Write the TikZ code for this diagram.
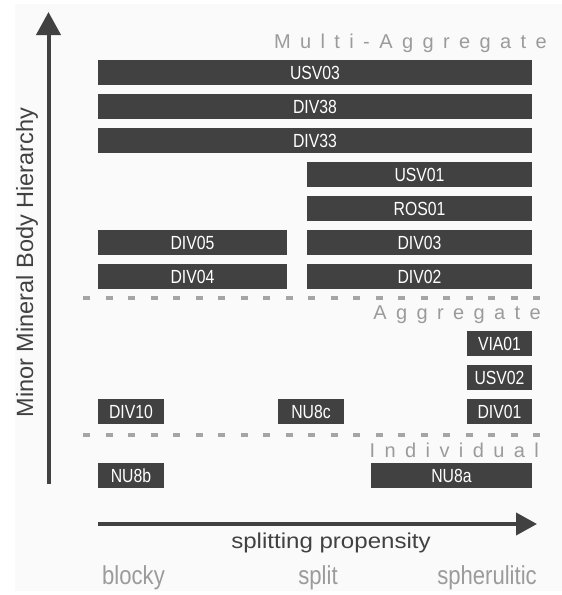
\documentclass[tikz,border=0pt]{standalone}
\usepackage{fontspec}
\setmainfont{Liberation Sans}
\newfontfamily\barfont[FakeStretch=0.83]{Liberation Sans}
\newfontfamily\narrowfont[FakeStretch=0.85]{Liberation Sans}
\newfontfamily\widefont[FakeStretch=1.12]{Liberation Sans}
\usetikzlibrary{arrows.meta}
\definecolor{bardark}{RGB}{65,65,65}
\definecolor{lightlab}{RGB}{155,155,155}
\definecolor{dashgray}{RGB}{165,165,165}
\definecolor{panel}{RGB}{250,250,250}
\newcommand\spc{\kern 9.4pt}
\tikzset{
  bar/.style={fill=bardark, draw=none, inner sep=0pt, minimum height=25pt, text=white,
    font=\barfont\fontsize{19}{22}\selectfont},
  axisline/.style={draw=bardark, line width=4pt},
  levelline/.style={draw=dashgray, line width=4pt, dash pattern=on 7pt off 15.5pt},
  levellab/.style={text=lightlab, inner sep=0pt, anchor=base east, font=\fontsize{20}{23}\selectfont},
  catlab/.style={text=lightlab, inner sep=0pt, anchor=base, font=\narrowfont\fontsize{26}{29}\selectfont},
}
\begin{document}
\begin{tikzpicture}[x=1pt, y=-1pt]
\useasboundingbox (0,0) rectangle (562,595);
\fill[panel] (15,4) rectangle (562,591);

% bars
\node[bar, minimum width=434pt] (usv03) at (315,72.5) {USV03};
\node[bar, minimum width=434pt] (div38) at (315,106.5) {DIV38};
\node[bar, minimum width=434pt] (div33) at (315,140.5) {DIV33};
\node[bar, minimum width=225pt] (usv01) at (419.5,174.5) {USV01};
\node[bar, minimum width=225pt] (ros01) at (419.5,208.5) {ROS01};
\node[bar, minimum width=225pt] (div03) at (419.5,242.5) {DIV03};
\node[bar, minimum width=225pt] (div02) at (419.5,276.5) {DIV02};
\node[bar, minimum width=189pt] (div05) at (192.5,242.5) {DIV05};
\node[bar, minimum width=189pt] (div04) at (192.5,276.5) {DIV04};
\node[bar, minimum width=65pt] (via01) at (499.5,343.5) {VIA01};
\node[bar, minimum width=65pt] (usv02) at (499.5,377.5) {USV02};
\node[bar, minimum width=65pt] (div01) at (499.5,411.5) {DIV01};
\node[bar, minimum width=66pt] (div10) at (131,411.5) {DIV10};
\node[bar, minimum width=66pt] (nu8c) at (311,411.5) {NU8c};
\node[bar, minimum width=66pt] (nu8b) at (131,475.5) {NU8b};
\node[bar, minimum width=161pt] (nu8a) at (451.5,475.5) {NU8a};

% level separators
\coordinate (aggL) at (83,298);
\coordinate (aggR) at (545,298);
\coordinate (indL) at (83,435);
\coordinate (indR) at (545,435);
\draw[levelline] (aggL) -- (aggR);
\draw[levelline] (indL) -- (indR);

% level labels
\node[levellab] (multi) at (547,48) {M\spc u\spc l\spc t\spc i\spc -\spc A\spc g\spc g\spc r\spc e\spc g\spc a\spc t\spc e};
\node[levellab] (aggr) at (541,319) {A\spc g\spc g\spc r\spc e\spc g\spc a\spc t\spc e};
\node[levellab] (indiv) at (539,457) {I\spc n\spc d\spc i\spc v\spc i\spc d\spc u\spc a\spc l};

% axes
\coordinate (ybot) at (48.5,484);
\coordinate (ytop) at (48.5,12);
\coordinate (xleft) at (98,524);
\coordinate (xright) at (537,524);
\draw[axisline, -{Triangle[length=23pt,width=24pt]}] (ybot) -- (ytop);
\draw[axisline, -{Triangle[length=21pt,width=22pt]}] (xleft) -- (xright);

\node[rotate=90, anchor=base, inner sep=0pt, text=bardark, font=\fontsize{23.5}{26}\selectfont] (ylab) at (33,262.5) {Minor Mineral Body Hierarchy};
\node[anchor=base, inner sep=0pt, text=bardark, font=\widefont\fontsize{21.5}{24}\selectfont] (xlab) at (331,548) {splitting propensity};

% category labels
\node[catlab] (blocky) at (133.5,584) {blocky};
\node[catlab] (split) at (318,584) {split};
\node[catlab] (spher) at (487,584) {spherulitic};
\end{tikzpicture}
\end{document}
